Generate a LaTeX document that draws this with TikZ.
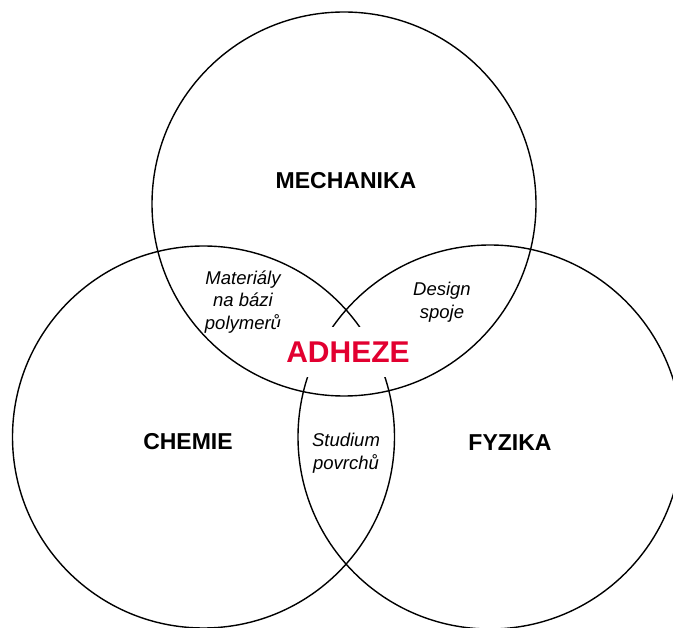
\documentclass[tikz,border=0pt]{standalone}
\usepackage{fontspec}
\setmainfont{Liberation Sans}

\definecolor{mred}{RGB}{226, 0, 48}

\tikzset{
	ring/.style={line width=1.4pt},
	field/.style={font=\bfseries\fontsize{23}{27}\selectfont},
	overlap/.style={font=\itshape\fontsize{18.5}{22.5}\selectfont, align=center},
}

\begin{document}
\begin{tikzpicture}[x=1pt, y=-1pt]
	\useasboundingbox (0,0) rectangle (673,628);
	\clip (0,0) rectangle (673,628);

	% --- Circles ---
	\draw[ring] (344,204) circle[radius=192pt];
	\draw[ring] (203.5,437) circle[radius=191pt];
	\draw[ring] (490,437) circle[radius=192pt];

	% --- Field names ---
	\node[field] (mech) at (346,181) {MECHANIKA};
	\node[field] (chem) at (188,442) {CHEMIE};
	\node[field] (fyz) at (510,443) {FYZIKA};

	% Overlaps
	\node[overlap] (mat) at (243,302) {Materiály\\na bázi\\polymerů};
	\node[overlap] (des) at (442,302) {Design\\spoje};
	\node[overlap] (stu) at (346,453) {Studium\\povrchů};

	% Centre, white box hides the lines behind it
	\node[fill=white, text=mred, font=\bfseries\fontsize{30}{34}\selectfont,
		text height=21.5pt, text depth=0pt, inner ysep=14pt, inner xsep=10pt] (adh) at (348,352) {ADHEZE};
\end{tikzpicture}
\end{document}
